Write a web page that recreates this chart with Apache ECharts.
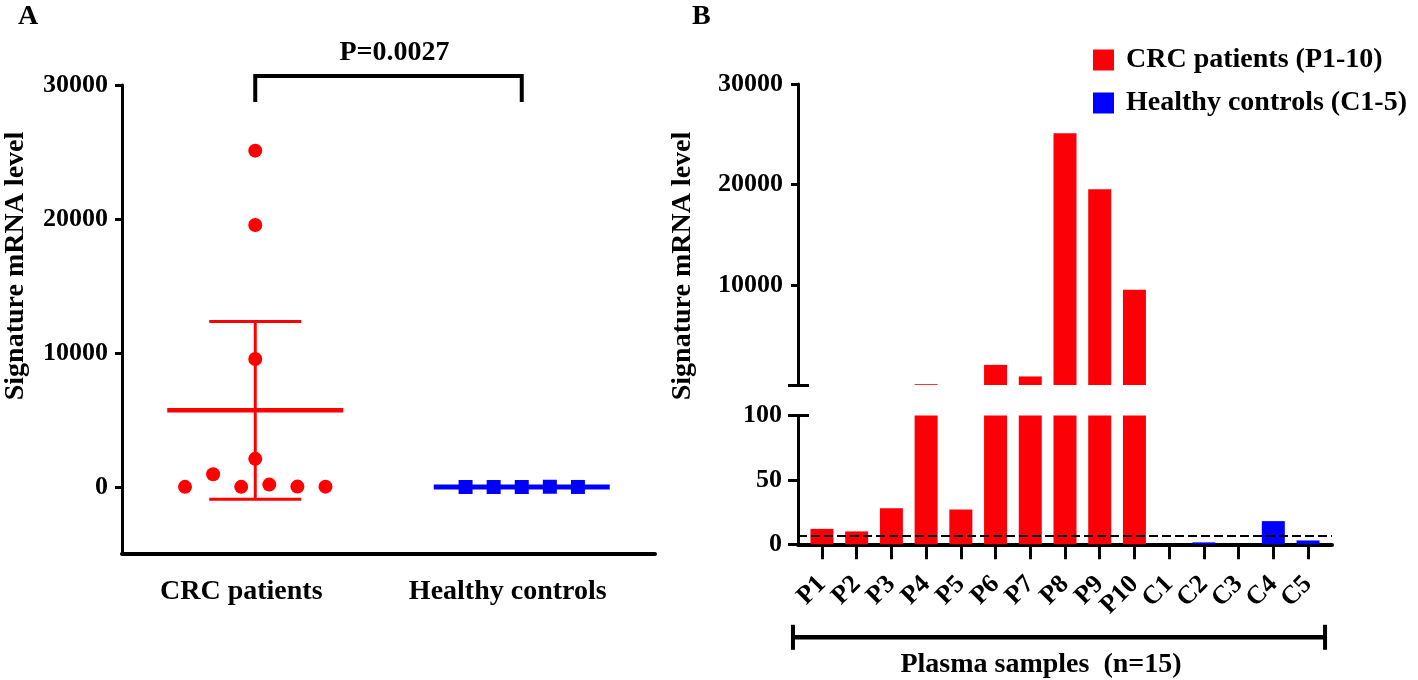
<!DOCTYPE html>
<html><head><meta charset="utf-8">
<script src="https://cdn.jsdelivr.net/npm/echarts@6/dist/echarts.min.js"></script>
<style>html,body{margin:0;padding:0;background:#fff}#c{width:1418px;height:680px}</style>
</head><body><div id="c"></div>
<script>
// ---------- data ----------
const groupNames = ['CRC patients', 'Healthy controls'];
const sampleNames = ['P1','P2','P3','P4','P5','P6','P7','P8','P9','P10','C1','C2','C3','C4','C5'];
const crcValues = [12, 10, 28, 180, 27, 2100, 950, 25100, 19550, 9550];
const controlValues = [0, 1.5, 0, 18, 3];
const groupMeans = [5720, 4.5];
const groupCILow = [-920, -5];
const groupCIHigh = [12360, 14];
const cutoffValue = 7;
const pValueText = 'P=0.0027';
const yTicksA = [0, 10000, 20000, 30000];
const yTicksBUpper = [10000, 20000, 30000];
const yTicksBLower = [0, 50, 100];
const legendNames = ['CRC patients (P1-10)', 'Healthy controls (C1-5)'];
const xTitleB = 'Plasma samples  (n=15)';
const yTitle = 'Signature mRNA level';

// ---------- layout (not data) ----------
const crcJitter = [-5, -1, 3, 1, 5, 0, -3, 0, 0, 0];
const ctrlJitter = [-4, -2, 0, 2, 4];
const jitterUnit = 0.0527;
const breakValue = 100;
const xMinB = -0.69, xMaxB = 14.69;
const RED = '#fb0007', BLUE = '#0000ff';
const FF = '"Liberation Serif","Times New Roman",serif';
const txt = (size) => ({ fontFamily: FF, fontWeight: 'bold', fontSize: size, color: '#000' });
const plain = v => String(v);

const chart = echarts.init(document.getElementById('c'), null, { renderer: 'canvas' });

const sampleIdx = sampleNames.map((_, i) => i);
// empty sentinel labels at the axis ends keep ECharts from hiding the first/last real labels
const sampleLabelPos = [xMinB].concat(sampleIdx, [xMaxB]);

const option = {
  animation: false,
  backgroundColor: '#fff',
  grid: [
    { left: 122, top: 85, width: 533, height: 469 },      // A
    { left: 798, top: 84, width: 534, height: 301 },      // B upper
    { left: 798, top: 415.5, width: 534, height: 128.8 }  // B lower
  ],
  legend: {
    data: legendNames, orient: 'vertical', left: 1093, top: 46, padding: 0,
    itemWidth: 21, itemHeight: 21, itemGap: 15, icon: 'rect',
    textStyle: Object.assign(txt(28), { lineHeight: 28, padding: [0, 0, 0, 7] })
  },
  xAxis: [
    { gridIndex: 0, type: 'value', min: 0.5, max: 2.5,
      axisLine: { show: true, onZero: false, lineStyle: { color: '#000', width: 4 } },
      axisTick: { show: false }, splitLine: { show: false },
      axisLabel: Object.assign(txt(28), { customValues: [1, 2], margin: 24, padding: [0, 28, 0, 0],
        formatter: v => groupNames[Math.round(v) - 1] }) },
    { gridIndex: 1, type: 'value', min: xMinB, max: xMaxB, show: false },
    { gridIndex: 2, type: 'value', min: xMinB, max: xMaxB,
      axisLine: { show: true, onZero: false, lineStyle: { color: '#000', width: 4 } },
      axisTick: { show: true, customValues: sampleIdx, length: 15, lineStyle: { color: '#000', width: 3 } },
      splitLine: { show: false },
      axisLabel: Object.assign(txt(26), { customValues: sampleLabelPos, rotate: 45, margin: 36,
        hideOverlap: false,
        formatter: v => (Number.isInteger(v) && sampleNames[v] !== undefined) ? sampleNames[v] : '' }) }
  ],
  yAxis: [
    { gridIndex: 0, type: 'value', position: 'left', min: -5000, max: 30000,
      axisLine: { show: true, onZero: false, lineStyle: { color: '#000', width: 3 } },
      axisTick: { show: true, customValues: yTicksA, length: 7, lineStyle: { color: '#000', width: 3 } },
      splitLine: { show: false },
      axisLabel: Object.assign(txt(26), { customValues: yTicksA, margin: 14, formatter: plain }) },
    { gridIndex: 1, type: 'value', position: 'left', min: breakValue, max: 30000,
      axisLine: { show: true, onZero: false, lineStyle: { color: '#000', width: 3 } },
      axisTick: { show: true, customValues: yTicksBUpper, length: 7, lineStyle: { color: '#000', width: 3 } },
      splitLine: { show: false },
      axisLabel: Object.assign(txt(26), { customValues: yTicksBUpper, margin: 15, formatter: plain }) },
    { gridIndex: 2, type: 'value', position: 'left', min: 0, max: breakValue,
      axisLine: { show: true, onZero: false, lineStyle: { color: '#000', width: 3 } },
      axisTick: { show: true, customValues: [0, 50], length: 10, lineStyle: { color: '#000', width: 3 } },
      splitLine: { show: false },
      axisLabel: Object.assign(txt(26), { customValues: yTicksBLower, margin: 16, formatter: plain }) },
    // break caps
    { gridIndex: 1, type: 'value', position: 'left', min: breakValue, max: 30000, offset: -11,
      axisLine: { show: false, onZero: false }, axisLabel: { show: false }, splitLine: { show: false },
      axisTick: { show: true, customValues: [breakValue], length: 21, lineStyle: { color: '#000', width: 3 } } },
    { gridIndex: 2, type: 'value', position: 'left', min: 0, max: breakValue, offset: -11,
      axisLine: { show: false, onZero: false }, axisLabel: { show: false }, splitLine: { show: false },
      axisTick: { show: true, customValues: [breakValue], length: 21, lineStyle: { color: '#000', width: 3 } } }
  ],
  series: [
    // ---- Panel A ----
    { name: 'A-summary', type: 'custom', xAxisIndex: 0, yAxisIndex: 0, z: 2,
      data: groupMeans.map((m, i) => [i + 1, m, groupCILow[i], groupCIHigh[i]]),
      renderItem: (params, api) => {
        const x = api.value(0);
        const c = api.coord([x, api.value(1)]);
        const lo = api.coord([x, api.value(2)]);
        const hi = api.coord([x, api.value(3)]);
        const color = params.dataIndex === 0 ? '#ff0000' : BLUE;
        const mw = params.dataIndex === 0 ? 4.5 : 5;
        return { type: 'group', children: [
          { type: 'line', shape: { x1: lo[0], y1: lo[1], x2: hi[0], y2: hi[1] }, style: { stroke: color, lineWidth: 3 } },
          { type: 'line', shape: { x1: lo[0] - 46, y1: lo[1], x2: lo[0] + 46, y2: lo[1] }, style: { stroke: color, lineWidth: 3 } },
          { type: 'line', shape: { x1: hi[0] - 46, y1: hi[1], x2: hi[0] + 46, y2: hi[1] }, style: { stroke: color, lineWidth: 3 } },
          { type: 'line', shape: { x1: c[0] - 88, y1: c[1], x2: c[0] + 88, y2: c[1] }, style: { stroke: color, lineWidth: mw } }
        ] };
      } },
    { name: 'A-crc', type: 'scatter', xAxisIndex: 0, yAxisIndex: 0, z: 3,
      symbol: 'circle', symbolSize: 14, itemStyle: { color: '#ff0000', opacity: 1 },
      data: crcValues.map((v, i) => [1 + crcJitter[i] * jitterUnit, v]) },
    { name: 'A-ctrl', type: 'scatter', xAxisIndex: 0, yAxisIndex: 0, z: 3,
      symbol: 'rect', symbolSize: 14, itemStyle: { color: BLUE, opacity: 1 },
      data: controlValues.map((v, i) => [2 + ctrlJitter[i] * jitterUnit, v]) },
    { name: 'A-bracket', type: 'custom', xAxisIndex: 0, yAxisIndex: 0, z: 4,
      data: [[1, 2]],
      renderItem: (params, api) => {
        const p1 = api.coord([api.value(0), 30000]);
        const p2 = api.coord([api.value(1), 30000]);
        const yTop = p1[1] - 9, yLeg = p1[1] + 17;
        return { type: 'group', children: [
          { type: 'polyline', shape: { points: [[p1[0], yLeg], [p1[0], yTop], [p2[0], yTop], [p2[0], yLeg]] },
            style: { stroke: '#000', lineWidth: 4, fill: null } },
          { type: 'text', style: { text: pValueText, x: (p1[0] + p2[0]) / 2 + 6, y: yTop - 23,
            align: 'center', verticalAlign: 'middle', font: 'bold 28px ' + FF, fill: '#000' } }
        ] };
      } },
    // ---- Panel B upper ----
    { name: legendNames[0], type: 'bar', xAxisIndex: 1, yAxisIndex: 1, barWidth: 23, barGap: '-100%',
      itemStyle: { color: RED }, clip: true,
      data: crcValues.map((v, i) => [i, v > breakValue ? v : '-']) },
    { name: legendNames[1], type: 'bar', xAxisIndex: 1, yAxisIndex: 1, barWidth: 23, barGap: '-100%',
      itemStyle: { color: BLUE }, clip: true,
      data: controlValues.map((v, i) => [crcValues.length + i, v > breakValue ? v : '-']) },
    // ---- Panel B lower ----
    { name: legendNames[0], type: 'bar', xAxisIndex: 2, yAxisIndex: 2, barWidth: 23, barGap: '-100%',
      itemStyle: { color: RED }, clip: true,
      data: crcValues.map((v, i) => [i, v]),
      markLine: { silent: true, symbol: ['none', 'none'], label: { show: false },
        lineStyle: { color: '#000', type: [9, 4], width: 2 }, data: [{ yAxis: cutoffValue }] } },
    { name: legendNames[1], type: 'bar', xAxisIndex: 2, yAxisIndex: 2, barWidth: 23, barGap: '-100%',
      itemStyle: { color: BLUE }, clip: true,
      data: controlValues.map((v, i) => [crcValues.length + i, v]) },
    { name: 'B-bracket', type: 'custom', xAxisIndex: 2, yAxisIndex: 2, z: 4,
      data: [[-0.835, 14.49]],
      renderItem: (params, api) => {
        const a = api.coord([api.value(0), 0]);
        const b = api.coord([api.value(1), 0]);
        const y = a[1] + 93;
        return { type: 'group', children: [
          { type: 'line', shape: { x1: a[0], y1: y, x2: b[0], y2: y }, style: { stroke: '#000', lineWidth: 4.5 } },
          { type: 'line', shape: { x1: a[0], y1: y - 12.5, x2: a[0], y2: y + 12.5 }, style: { stroke: '#000', lineWidth: 4 } },
          { type: 'line', shape: { x1: b[0], y1: y - 12.5, x2: b[0], y2: y + 12.5 }, style: { stroke: '#000', lineWidth: 4 } },
          { type: 'text', style: { text: xTitleB, x: (a[0] + b[0]) / 2 - 18, y: y + 27,
            align: 'center', verticalAlign: 'middle', font: 'bold 28px ' + FF, fill: '#000' } }
        ] };
      } }
  ],
  graphic: [
    { type: 'text', x: 18, y: 17, style: { text: 'A', font: 'bold 28px ' + FF, fill: '#000', align: 'left', verticalAlign: 'middle' } },
    { type: 'text', x: 692, y: 17, style: { text: 'B', font: 'bold 28px ' + FF, fill: '#000', align: 'left', verticalAlign: 'middle' } },
    { type: 'text', x: 16, y: 266, rotation: Math.PI / 2,
      style: { text: yTitle, font: 'bold 28px ' + FF, fill: '#000', align: 'center', verticalAlign: 'middle' } },
    { type: 'text', x: 683, y: 266, rotation: Math.PI / 2,
      style: { text: yTitle, font: 'bold 28px ' + FF, fill: '#000', align: 'center', verticalAlign: 'middle' } }
  ]
};
chart.setOption(option);
</script></body></html>
